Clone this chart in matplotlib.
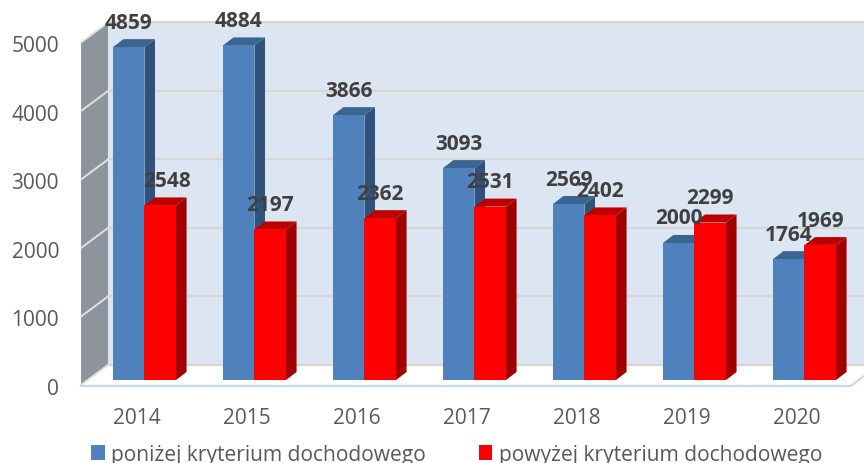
import matplotlib
matplotlib.use("Agg")
import matplotlib.pyplot as plt
from matplotlib.patches import Patch, Polygon

plt.rcParams["font.family"] = ["Open Sans", "DejaVu Sans"]

# ── Data ──────────────────────────────────────────────────────────────────────

years = ["2014", "2015", "2016", "2017", "2018", "2019", "2020"]
below = [4859, 4884, 3866, 3093, 2569, 2000, 1764]
above = [2548, 2197, 2362, 2531, 2402, 2299, 1969]
y_ticks = [0, 1000, 2000, 3000, 4000, 5000]
legend_labels = ["poniżej kryterium dochodowego", "powyżej kryterium dochodowego"]

# ── Fake 3D geometry, in data units (1 category = 110 px, 1000 = 68.5 px) ─────

BAR_W = 0.287
DEPTH_X = 0.0955
DEPTH_Y = 117
FRONT_Y = -73       # front edge of the floor
BACK_Y = 219        # foot of the back wall
LEFT_FRONT = -0.577
LEFT_BACK = -0.332
XMIN, XMAX = -1.3136, 6.541

WALL = "#dce6f2"
SIDE = "#8d949b"
GRID = "#d9d5d0"


def box(ax, x, value, front, side, top):
    """Draws one bar as three polygons: front, right side and top."""
    ax.add_patch(Polygon([(x, 0), (x + BAR_W, 0), (x + BAR_W, value), (x, value)],
                         fc=front, ec="none", zorder=4))
    ax.add_patch(Polygon([(x + BAR_W, 0), (x + BAR_W + DEPTH_X, DEPTH_Y),
                          (x + BAR_W + DEPTH_X, value + DEPTH_Y), (x + BAR_W, value)],
                         fc=side, ec="none", zorder=3))
    ax.add_patch(Polygon([(x, value), (x + BAR_W, value),
                          (x + BAR_W + DEPTH_X, value + DEPTH_Y), (x + DEPTH_X, value + DEPTH_Y)],
                         fc=top, ec="none", zorder=3))


fig = plt.figure(figsize=(8.64, 4.64), dpi=100)
ax = fig.add_axes([0, 0, 1, 1])
ax.set_xlim(XMIN, XMAX)
ax.set_ylim(-1212, 5562)
ax.axis("off")

# Walls and floor
top_back = y_ticks[-1] + BACK_Y
top_front = y_ticks[-1] + FRONT_Y
ax.add_patch(Polygon([(LEFT_BACK, BACK_Y), (XMAX, BACK_Y), (XMAX, top_back), (LEFT_BACK, top_back)],
                     fc=WALL, ec="none", zorder=1))
ax.add_patch(Polygon([(LEFT_FRONT, FRONT_Y), (LEFT_BACK, BACK_Y), (LEFT_BACK, top_back), (LEFT_FRONT, top_front)],
                     fc=SIDE, ec="none", zorder=1))

for tick in y_ticks:
    ax.plot([LEFT_BACK, XMAX], [tick + BACK_Y] * 2, color=GRID, lw=1.6, zorder=2)
    ax.plot([LEFT_FRONT, LEFT_BACK], [tick + FRONT_Y, tick + BACK_Y], color="#dfe1e3", lw=1.4, zorder=2)
    ax.text(-0.777, tick + FRONT_Y - 50, str(tick), ha="right", va="center", fontsize=15, color="#595959")

# Floor front edge
ax.plot([LEFT_FRONT, 6.42, XMAX], [FRONT_Y - 15, FRONT_Y - 15, 58],
        color="#c6d9f1", lw=1.6, zorder=2)

# Bars and value labels
for i in range(len(years)):
    box(ax, i - BAR_W, below[i], "#4f81bd", "#31527c", "#3b6591")
    box(ax, i, above[i], "#ff0000", "#a00000", "#bc0000")

    ax.annotate(str(below[i]), (i - BAR_W / 2, below[i]), xytext=(0, 18), textcoords="offset points",
                ha="center", va="center", fontsize=15, fontweight="bold", color="#404040", zorder=6)
    # first red label sits a bit to the right of its bar
    shift = 5 if i == 0 else 0
    ax.annotate(str(above[i]), (i + BAR_W / 2, above[i]), xytext=(shift, 18), textcoords="offset points",
                ha="center", va="center", fontsize=15, fontweight="bold", color="#404040", zorder=6)

    ax.text(i - 0.068, -555, years[i], ha="center", va="center", fontsize=15, color="#595959")

# Legend
handles = [Patch(fc="#4f81bd", ec="none"), Patch(fc="#ff0000", ec="none")]
fig.legend(handles, legend_labels, loc="center", bbox_to_anchor=(0.5285, 0.0185), ncol=2, frameon=False,
           fontsize=15.1, labelcolor="#595959", handlelength=0.66, handleheight=0.66,
           handletextpad=0.3, columnspacing=2.5, borderpad=0)

plt.savefig("out.png", dpi=100)
